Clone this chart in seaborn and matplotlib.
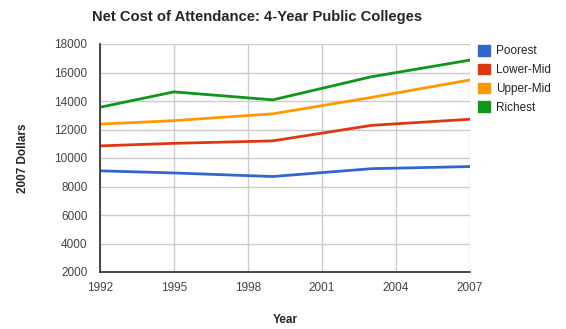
import matplotlib
matplotlib.use("Agg")
import matplotlib.pyplot as plt
from matplotlib.patches import Patch
import seaborn as sns
import pandas as pd

years = [1992, 1995, 1999, 2003, 2007]
poorest = [9100, 8950, 8700, 9250, 9400]
lower_mid = [10850, 11030, 11200, 12290, 12720]
upper_mid = [12380, 12620, 13100, 14250, 15480]
richest = [13560, 14640, 14080, 15700, 16870]
series_names = ["Poorest", "Lower-Mid", "Upper-Mid", "Richest"]
colors = ["#3366cc", "#dc3912", "#ff9900", "#109618"]
xticks = [1992, 1995, 1998, 2001, 2004, 2007]
yticks = list(range(2000, 18001, 2000))

rows = []
for name, vals in zip(series_names, [poorest, lower_mid, upper_mid, richest]):
    for y, v in zip(years, vals):
        rows.append({"Year": y, "Cost": v, "Group": name})
df = pd.DataFrame(rows)

sns.set_theme(style="white")
plt.rcParams["font.family"] = ["Liberation Sans", "DejaVu Sans"]

fig = plt.figure(figsize=(5.66, 3.29), dpi=100)
ax = fig.add_axes([100/566, 1-272/329, 370/566, 228/329])
sns.lineplot(data=df, x="Year", y="Cost", hue="Group", hue_order=series_names,
             palette=colors, linewidth=2, ax=ax, legend=False)

ax.set_xlim(1992, 2007)
ax.set_ylim(2000, 18000)
ax.set_xticks(xticks)
ax.set_yticks(yticks)
ax.grid(True, color="#cccccc", linewidth=1)
ax.set_axisbelow(True)
for s in ["top", "right"]:
    ax.spines[s].set_visible(False)
ax.spines["left"].set_color("#333333")
ax.spines["bottom"].set_color("#333333")
ax.tick_params(axis="y", length=0, labelsize=8.5, colors="#444444", pad=9)
ax.tick_params(axis="x", length=0, labelsize=8.5, colors="#444444", pad=7.5)
ax.set_xlabel("Year", fontsize=8.5, fontweight="bold", labelpad=14)
ax.set_ylabel("2007 Dollars", fontsize=8.5, fontweight="bold", labelpad=18)
fig.text(0.5 * (93 + 421) / 566, 1 - 17/329, "Net Cost of Attendance: 4-Year Public Colleges",
         ha="center", va="center", fontsize=10.6, fontweight="bold")

handles = [Patch(facecolor=c, edgecolor=c) for c in colors]
fig.legend(handles, series_names, loc="upper left", bbox_to_anchor=(478/566, 1-45/329),
           frameon=False, fontsize=8.5, handlelength=1.0, handleheight=1.0,
           handletextpad=0.5, labelspacing=0.55, borderaxespad=0, borderpad=0)

fig.savefig("out.png", dpi=100)
